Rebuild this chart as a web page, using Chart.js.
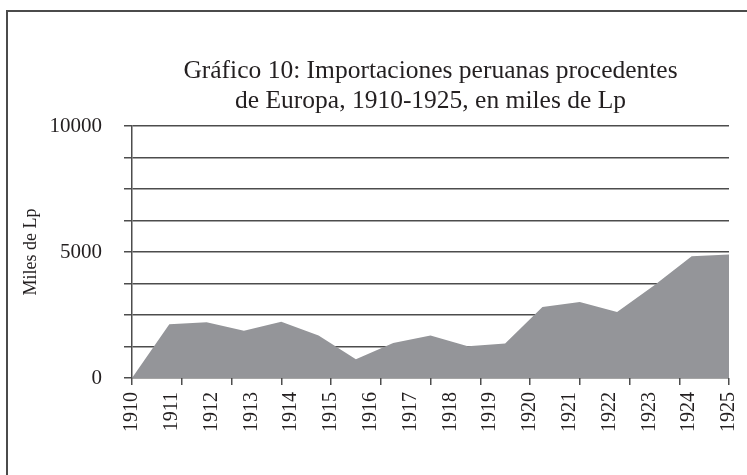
<!DOCTYPE html>
<html>
<head>
<meta charset="utf-8">
<script src="https://cdn.jsdelivr.net/npm/chart.js@4/dist/chart.umd.min.js"></script>
<style>
  html, body { margin: 0; padding: 0; background: #fff; }
  #wrap { position: relative; width: 747px; height: 475px; overflow: hidden; }
  #frame {
    position: absolute; left: 6px; top: 10px; width: 900px; height: 700px;
    border-top: 2px solid #4b4b4b; border-left: 2px solid #4b4b4b;
    pointer-events: none;
  }
</style>
</head>
<body>
<div id="wrap">
  <canvas id="chart" width="747" height="475"></canvas>
  <div id="frame"></div>
</div>
<script>
// Area points (first point sits on zero).
const periodos = ['', '1910', '1911', '1912', '1913', '1914', '1915', '1916', '1917',
  '1918', '1919', '1920', '1921', '1922', '1923', '1924', '1925'];
const importaciones = [0, 2130, 2210, 1880, 2230, 1690, 740, 1390, 1690,
  1260, 1370, 2820, 3020, 2620, 3680, 4830, 4900];

// Category labels printed under the axis
const anios = ['1910', '1911', '1912', '1913', '1914', '1915', '1916', '1917',
  '1918', '1919', '1920', '1921', '1922', '1923', '1924', '1925'];
// Tick marks on the x axis (13 of them, unlabeled)
const marcas = ['', '', '', '', '', '', '', '', '', '', '', '', ''];

const yMin = 0;
const yMax = 10000;
const yStep = 1250;
const yLabelEvery = 5000;

const serif = "'Liberation Serif', 'DejaVu Serif', serif";
const ink = '#231f20';
const rule = '#4d4d4d';

new Chart(document.getElementById('chart').getContext('2d'), {
  type: 'line',
  data: {
    labels: periodos,
    datasets: [{
      label: 'Importaciones desde Europa',
      data: importaciones,
      xAxisID: 'x',
      yAxisID: 'y',
      fill: 'origin',
      backgroundColor: '#949599',
      borderWidth: 0,
      pointRadius: 0,
      tension: 0,
    }],
  },
  options: {
    responsive: false,
    animation: false,
    layout: { padding: { top: 46, left: 20, right: 18, bottom: 36 } },
    plugins: {
      legend: { display: false },
      tooltip: { enabled: false },
      title: {
        display: true,
        fullSize: false,
        text: ['Gráfico 10: Importaciones peruanas procedentes',
               'de Europa, 1910-1925, en miles de Lp'],
        color: ink,
        font: { family: serif, size: 25.5, weight: 'normal', lineHeight: 1.18 },
        padding: { top: 10, bottom: 10 },
      },
    },
    scales: {
      x: {
        type: 'category',
        display: false,
        offset: false,
      },
      marcas: {
        type: 'category',
        axis: 'x',
        position: 'bottom',
        weight: 0,
        labels: marcas,
        offset: false,
        border: { display: false },
        grid: { drawOnChartArea: false, drawTicks: true, tickLength: 7, color: rule, lineWidth: 1.5 },
        ticks: { display: false },
      },
      anios: {
        type: 'category',
        axis: 'x',
        position: 'bottom',
        weight: 1,
        labels: anios,
        offset: false,
        border: { display: false },
        grid: { display: false, drawTicks: false },
        ticks: {
          color: ink,
          font: { family: serif, size: 20 },
          minRotation: 90,
          maxRotation: 90,
          autoSkip: false,
          padding: 7,
        },
        // let the last rotated label hang into the right margin
        afterFit: (s) => { s.paddingLeft = 0; s.paddingRight = 0; },
      },
      y: {
        min: yMin,
        max: yMax,
        border: { display: true, color: rule, width: 1.5 },
        grid: { color: rule, lineWidth: 1.5, tickLength: 8 },
        ticks: {
          stepSize: yStep,
          color: ink,
          font: { family: serif, size: 21 },
          padding: 22,
          callback: (v) => (v % yLabelEvery === 0 ? String(v) : ''),
        },
        title: {
          display: true,
          text: 'Miles de Lp',
          color: ink,
          font: { family: serif, size: 18 },
          padding: { top: 0, bottom: 9 },
        },
        afterFit: (s) => { s.width = 112; },
      },
    },
  },
});
</script>
</body>
</html>
